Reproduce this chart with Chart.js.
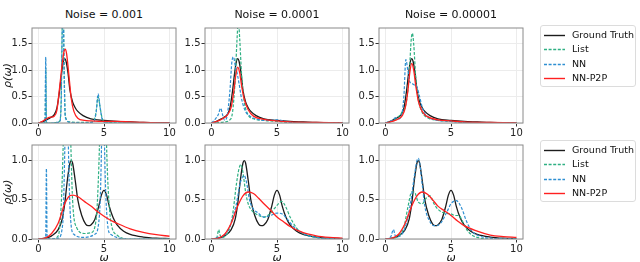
<!DOCTYPE html>
<html>
<head>
<meta charset="utf-8">
<script src="https://cdn.jsdelivr.net/npm/chart.js@4/dist/chart.umd.min.js"></script>
<style>
  body { margin: 0; width: 640px; height: 262px; position: relative; background: #fff; overflow: hidden;
         font-family: 'DejaVu Sans', sans-serif; color: #111; }
  .panel { position: absolute; }
  .title { position: absolute; font-size: 11px; transform: translateX(-50%); white-space: nowrap; }
  .legend { position: absolute; width: 94px; border: 1px solid #dcdcdc; border-radius: 3px; background: #fff; }
  .legend .row { position: absolute; left: 0; height: 14px; font-size: 9.5px; line-height: 14px; white-space: nowrap; }
  .legend svg { position: absolute; left: 3px; top: 6px; }
  .legend span { position: absolute; left: 31px; }
</style>
</head>
<body>
<script>
const xTicks       = [0, 5, 10]
const yTicksTop    = [0, 0.5, 1.0, 1.5]
const yTicksBottom = [0, 0.5, 1.0]
const noiseLabels  = ['Noise = 0.001', 'Noise = 0.0001', 'Noise = 0.00001']
const seriesNames  = ['Ground Truth', 'List', 'NN', 'NN-P2P']
const seriesColors = ['#1c1c1c', '#2fb083', '#2e8fd2', '#ff2020']

// ground truth, shared by every panel of a row
const truthTopW   = [0, 0.3, 0.6, 0.9, 1.2, 1.4, 1.6, 1.75, 1.9, 2.0, 2.1, 2.25, 2.4, 2.6, 2.8, 3.0, 3.4, 4.0, 5.0, 6.0, 7.0, 8.0, 10.0]
const truthTopRho = [0, 0.02, 0.06, 0.1, 0.16, 0.28, 0.6, 0.92, 1.17, 1.22, 1.17, 0.95, 0.62, 0.4, 0.29, 0.22, 0.14, 0.08, 0.05, 0.03, 0.02, 0.01, 0.005]
const truthBotW   = [0, 0.5, 1.0, 1.5, 1.8, 2.0, 2.2, 2.4, 2.5, 2.6, 2.8, 3.0, 3.3, 3.6, 3.8, 4.0, 4.3, 4.6, 4.8, 5.0, 5.2, 5.4, 5.7, 6.0, 6.5, 7.0, 8.0, 9.0, 10.0]
const truthBotRho = [0, 0.01, 0.04, 0.12, 0.25, 0.45, 0.75, 0.97, 1.0, 0.97, 0.75, 0.5, 0.3, 0.19, 0.17, 0.18, 0.25, 0.42, 0.56, 0.62, 0.56, 0.42, 0.27, 0.18, 0.1, 0.06, 0.025, 0.01, 0.005]

// panel 1: top, noise 0.001
const spike1W  = [0, 0.45, 0.5, 0.55, 0.6, 0.65, 1.0, 1.6, 1.72, 1.8, 1.87, 1.95, 2.05, 2.4, 3.5, 4.2, 4.4, 4.55, 4.7, 4.85, 5.0, 5.5, 7, 10]
const list1Rho = [0, 0, 0.03, 1.05, 0.03, 0, 0, 0.03, 0.35, 1.7, 2.5, 1.1, 0.12, 0.02, 0.01, 0.03, 0.22, 0.5, 0.3, 0.1, 0.03, 0.01, 0, 0]
const nn1Rho   = [0, 0, 0.04, 1.25, 0.04, 0, 0, 0.02, 0.3, 1.6, 2.6, 1.0, 0.1, 0.01, 0, 0.02, 0.2, 0.55, 0.3, 0.08, 0.02, 0, 0, 0]
const p2p1W    = [0, 0.3, 0.6, 0.9, 1.2, 1.4, 1.6, 1.8, 1.95, 2.05, 2.15, 2.3, 2.5, 2.7, 3.0, 3.5, 4, 5, 6, 7, 8, 10]
const p2p1Rho  = [0, 0.03, 0.08, 0.11, 0.13, 0.24, 0.65, 1.1, 1.36, 1.4, 1.3, 0.95, 0.46, 0.22, 0.09, 0.05, 0.04, 0.03, 0.03, 0.02, 0.01, 0]

// panel 2: top, noise 0.0001
const list2W   = [0, 1.0, 1.4, 1.6, 1.8, 1.95, 2.05, 2.15, 2.3, 2.5, 2.8, 3.2, 4, 5, 6, 8, 10]
const list2Rho = [0, 0.02, 0.06, 0.2, 0.8, 1.6, 1.95, 1.6, 0.9, 0.4, 0.15, 0.08, 0.05, 0.03, 0.01, 0, 0]
const nn2W     = [0, 0.3, 0.5, 0.7, 0.85, 1.0, 1.2, 1.4, 1.55, 1.68, 1.8, 1.95, 2.1, 2.3, 2.6, 3.0, 3.5, 4.0, 4.5, 5.0, 5.5, 6, 8, 10]
const nn2Rho   = [0, 0.08, 0.15, 0.28, 0.15, 0.05, 0.15, 0.6, 1.15, 1.25, 1.1, 0.95, 0.75, 0.45, 0.22, 0.12, 0.07, 0.05, 0.05, 0.06, 0.04, 0.01, 0, 0]
const p2p2W    = [0, 0.3, 0.6, 0.9, 1.2, 1.5, 1.7, 1.85, 2.0, 2.15, 2.3, 2.5, 2.8, 3.2, 4, 5, 6, 8, 10]
const p2p2Rho  = [0, 0.02, 0.05, 0.09, 0.15, 0.3, 0.6, 0.9, 1.06, 0.95, 0.7, 0.45, 0.25, 0.13, 0.07, 0.04, 0.02, 0.01, 0]

// panel 3: top, noise 0.00001
const list3W   = [0, 0.6, 1.0, 1.3, 1.5, 1.7, 1.85, 1.95, 2.05, 2.15, 2.3, 2.5, 2.8, 3.2, 4, 5, 6, 8, 10]
const list3Rho = [0, 0.05, 0.12, 0.22, 0.3, 0.6, 1.1, 1.55, 1.7, 1.5, 0.9, 0.45, 0.2, 0.1, 0.05, 0.03, 0.01, 0, 0]
const nn3W     = [0, 0.5, 0.8, 1.0, 1.2, 1.4, 1.55, 1.7, 1.85, 2.0, 2.2, 2.4, 2.6, 2.8, 3.0, 3.5, 4, 5, 6, 8, 10]
const nn3Rho   = [0, 0.05, 0.1, 0.08, 0.12, 0.5, 1.2, 1.0, 0.78, 0.75, 0.72, 0.68, 0.5, 0.3, 0.18, 0.08, 0.05, 0.03, 0.01, 0, 0]
const p2p3W    = [0, 0.5, 1.0, 1.3, 1.5, 1.7, 1.85, 2.0, 2.15, 2.3, 2.5, 2.8, 3.2, 4, 5, 6, 8, 10]
const p2p3Rho  = [0, 0.03, 0.08, 0.15, 0.28, 0.6, 0.95, 1.13, 1.0, 0.72, 0.42, 0.22, 0.12, 0.06, 0.04, 0.02, 0.01, 0]

// panel 4: bottom, noise 0.001
const list4W   = [0, 1.0, 1.5, 1.75, 1.9, 2.05, 2.18, 2.3, 2.45, 2.6, 2.9, 3.5, 4.0, 4.4, 4.6, 4.75, 4.92, 5.1, 5.25, 5.5, 6.0, 7, 10]
const list4Rho = [0, 0, 0.04, 0.5, 1.3, 2.3, 2.6, 2.2, 1.3, 0.5, 0.15, 0.07, 0.08, 0.25, 0.9, 1.8, 2.6, 1.8, 0.9, 0.25, 0.05, 0, 0]
const nn4W     = [0, 0.5, 0.55, 0.6, 0.65, 0.7, 1.5, 1.85, 2.0, 2.15, 2.3, 2.45, 2.7, 3.5, 4.3, 4.65, 4.8, 4.92, 5.05, 5.2, 5.5, 7, 10]
const nn4Rho   = [0, 0, 0.05, 0.9, 0.05, 0, 0.01, 0.2, 1.1, 2.6, 1.0, 0.25, 0.06, 0.02, 0.06, 0.3, 1.1, 2.6, 1.1, 0.35, 0.06, 0, 0]
const p2p4W    = [0, 0.5, 1.0, 1.5, 2.0, 2.3, 2.6, 3.0, 3.5, 4.0, 4.5, 5.0, 5.5, 6.0, 7.0, 8.0, 9.0, 10.0]
const p2p4Rho  = [0, 0.01, 0.07, 0.2, 0.45, 0.54, 0.56, 0.54, 0.48, 0.42, 0.35, 0.29, 0.24, 0.2, 0.13, 0.085, 0.055, 0.035]

// panel 5: bottom, noise 0.0001
const list5W   = [0, 0.4, 0.55, 0.65, 0.8, 1.0, 1.3, 1.6, 1.9, 2.1, 2.25, 2.4, 2.6, 2.8, 3.0, 3.3, 3.6, 4.0, 4.5, 5.0, 5.35, 5.7, 6.0, 6.5, 7, 8, 10]
const list5Rho = [0, 0.02, 0.12, 0.05, 0.02, 0.03, 0.1, 0.3, 0.7, 0.9, 0.95, 0.85, 0.6, 0.45, 0.38, 0.33, 0.3, 0.28, 0.33, 0.43, 0.48, 0.4, 0.28, 0.14, 0.07, 0.02, 0]
const nn5W     = [0, 0.5, 1.0, 1.5, 1.9, 2.2, 2.5, 2.7, 2.9, 3.2, 3.5, 4.0, 4.5, 5.0, 5.4, 5.8, 6.2, 7.0, 8.0, 10]
const nn5Rho   = [0, 0.02, 0.05, 0.2, 0.45, 0.72, 0.81, 0.7, 0.5, 0.38, 0.34, 0.28, 0.3, 0.33, 0.32, 0.25, 0.17, 0.07, 0.02, 0]
const p2p5W    = [0, 0.5, 1.0, 1.5, 2.0, 2.4, 2.8, 3.2, 3.6, 4.0, 4.5, 5.0, 5.5, 6.0, 7.0, 8.0, 9.0, 10.0]
const p2p5Rho  = [0, 0.01, 0.06, 0.2, 0.42, 0.55, 0.6, 0.58, 0.52, 0.45, 0.37, 0.28, 0.22, 0.16, 0.08, 0.04, 0.02, 0.01]

// panel 6: bottom, noise 0.00001
const list6W   = [0, 0.5, 1.0, 1.4, 1.7, 2.0, 2.2, 2.5, 2.8, 3.1, 3.4, 3.7, 4.0, 4.5, 5.0, 5.3, 5.6, 5.9, 6.2, 6.6, 7, 8, 10]
const list6Rho = [0, 0.01, 0.04, 0.15, 0.4, 0.6, 0.6, 0.47, 0.45, 0.52, 0.55, 0.45, 0.38, 0.33, 0.32, 0.3, 0.3, 0.22, 0.12, 0.05, 0.02, 0, 0]
const nn6W     = [0, 0.4, 0.6, 0.75, 1.0, 1.5, 1.9, 2.2, 2.4, 2.5, 2.6, 2.8, 3.0, 3.3, 3.7, 4.2, 4.7, 5.0, 5.4, 5.8, 6.2, 6.6, 7.0, 8.0, 10]
const nn6Rho   = [0, 0.03, 0.12, 0.04, 0.03, 0.15, 0.45, 0.8, 1.0, 1.03, 0.98, 0.7, 0.42, 0.25, 0.17, 0.2, 0.35, 0.45, 0.49, 0.4, 0.22, 0.1, 0.05, 0.01, 0]
const p2p6W    = [0, 0.5, 1.0, 1.5, 2.0, 2.4, 2.8, 3.2, 3.6, 4.0, 4.5, 5.0, 5.5, 6.0, 7.0, 8.0, 9.0, 10.0]
const p2p6Rho  = [0, 0.01, 0.06, 0.2, 0.42, 0.55, 0.6, 0.57, 0.5, 0.42, 0.36, 0.3, 0.23, 0.17, 0.1, 0.05, 0.03, 0.02]

const panels = [
  [[truthTopW, truthTopRho], [spike1W, list1Rho], [spike1W, nn1Rho], [p2p1W, p2p1Rho]],
  [[truthTopW, truthTopRho], [list2W, list2Rho], [nn2W, nn2Rho], [p2p2W, p2p2Rho]],
  [[truthTopW, truthTopRho], [list3W, list3Rho], [nn3W, nn3Rho], [p2p3W, p2p3Rho]],
  [[truthBotW, truthBotRho], [list4W, list4Rho], [nn4W, nn4Rho], [p2p4W, p2p4Rho]],
  [[truthBotW, truthBotRho], [list5W, list5Rho], [nn5W, nn5Rho], [p2p5W, p2p5Rho]],
  [[truthBotW, truthBotRho], [list6W, list6Rho], [nn6W, nn6Rho], [p2p6W, p2p6Rho]],
]

const cols = [{ left: 32, axisW: 32 }, { left: 205, axisW: 26 }, { left: 379, axisW: 26 }]
const rows = [
  { top: 25,  h: 98, xAxisH: 14, yMax: 1.8, ticks: yTicksTop },
  { top: 142, h: 97, xAxisH: 23, yMax: 1.2, ticks: yTicksBottom },
]
const PLOT_W = 144, PAD_T = 4, PAD_R = 10
const tickFont = { family: 'DejaVu Sans', size: 10 }

const framePlugin = {
  id: 'frame',
  afterDatasetsDraw(chart) {
    const { ctx, chartArea: a } = chart
    ctx.save()
    ctx.strokeStyle = '#8a8a8a'
    ctx.lineWidth = 1
    ctx.strokeRect(a.left, a.top, a.right - a.left, a.bottom - a.top)
    ctx.restore()
  }
}

function pts(w, rho) { return w.map((x, i) => ({ x, y: rho[i] })) }

function makePanel(idx) {
  const col = cols[idx % 3], row = rows[Math.floor(idx / 3)]
  const isLeft = idx % 3 === 0, isBottom = idx >= 3
  const W = col.axisW + PLOT_W + PAD_R, H = PAD_T + row.h + row.xAxisH

  const div = document.createElement('div')
  div.className = 'panel'
  div.style.left = (col.left - col.axisW) + 'px'
  div.style.top = (row.top - PAD_T) + 'px'
  const canvas = document.createElement('canvas')
  canvas.width = W; canvas.height = H
  div.appendChild(canvas)
  document.body.appendChild(div)

  // datasets reversed so NN-P2P ends up drawn on top, ground truth underneath
  const datasets = panels[idx].map(([w, rho], s) => ({
    label: seriesNames[s],
    data: pts(w, rho),
    borderColor: seriesColors[s],
    borderWidth: s === 0 || s === 3 ? 1.3 : 1.2,
    borderDash: s === 1 || s === 2 ? [3, 1.6] : [],
    pointRadius: 0,
    cubicInterpolationMode: 'monotone',
    fill: false,
    clip: 0,
  })).reverse()

  new Chart(canvas, {
    type: 'line',
    data: { datasets },
    plugins: [framePlugin],
    options: {
      responsive: false,
      animation: false,
      events: [],
      layout: { padding: { top: PAD_T, right: PAD_R, left: 0, bottom: 0 } },
      plugins: { legend: { display: false }, tooltip: { enabled: false } },
      scales: {
        x: {
          type: 'linear', min: -0.5, max: 10.5,
          afterBuildTicks: axis => { axis.ticks = xTicks.map(v => ({ value: v })) },
          afterFit: axis => { axis.height = row.xAxisH },
          grid: { color: '#ececec', tickColor: '#333', tickLength: 3.5 },
          border: { display: false },
          ticks: { font: tickFont, color: '#222', padding: 1, maxRotation: 0, callback: v => String(v) },
          title: { display: isBottom, text: 'ω', font: { family: 'DejaVu Sans', size: 11, style: 'italic' }, color: '#111', padding: { top: 0, bottom: -3 } },
        },
        y: {
          type: 'linear', min: 0, max: row.yMax,
          afterBuildTicks: axis => { axis.ticks = row.ticks.map(v => ({ value: v })) },
          afterFit: axis => { axis.width = col.axisW },
          grid: { color: '#ececec', tickColor: '#333', tickLength: 3.5 },
          border: { display: false },
          ticks: { font: tickFont, color: '#222', padding: 1, callback: v => v.toFixed(1) },
          title: { display: isLeft, text: 'ρ(ω)', font: { family: 'DejaVu Sans', size: 11, style: 'italic' }, color: '#111', padding: { top: 2, bottom: 0 } },
        }
      }
    }
  })
}

for (let i = 0; i < 6; i++) makePanel(i)

noiseLabels.forEach((txt, i) => {
  const t = document.createElement('div')
  t.className = 'title'
  t.textContent = txt
  t.style.left = (cols[i].left + PLOT_W / 2) + 'px'
  t.style.top = '8px'
  document.body.appendChild(t)
})

function makeLegend(top) {
  const box = document.createElement('div')
  box.className = 'legend'
  box.style.left = '540px'
  box.style.top = top + 'px'
  box.style.height = '60px'
  seriesNames.forEach((name, s) => {
    const r = document.createElement('div')
    r.className = 'row'
    r.style.top = (2 + s * 14.3) + 'px'
    const dash = s === 1 || s === 2 ? ' stroke-dasharray="3 1.6"' : ''
    r.innerHTML = `<svg width="22" height="3"><line x1="0" y1="1.5" x2="21" y2="1.5" stroke="${seriesColors[s]}" stroke-width="1.4"${dash}/></svg><span>${name}</span>`
    box.appendChild(r)
  })
  document.body.appendChild(box)
}

makeLegend(25)
makeLegend(140)
</script>
</body>
</html>
